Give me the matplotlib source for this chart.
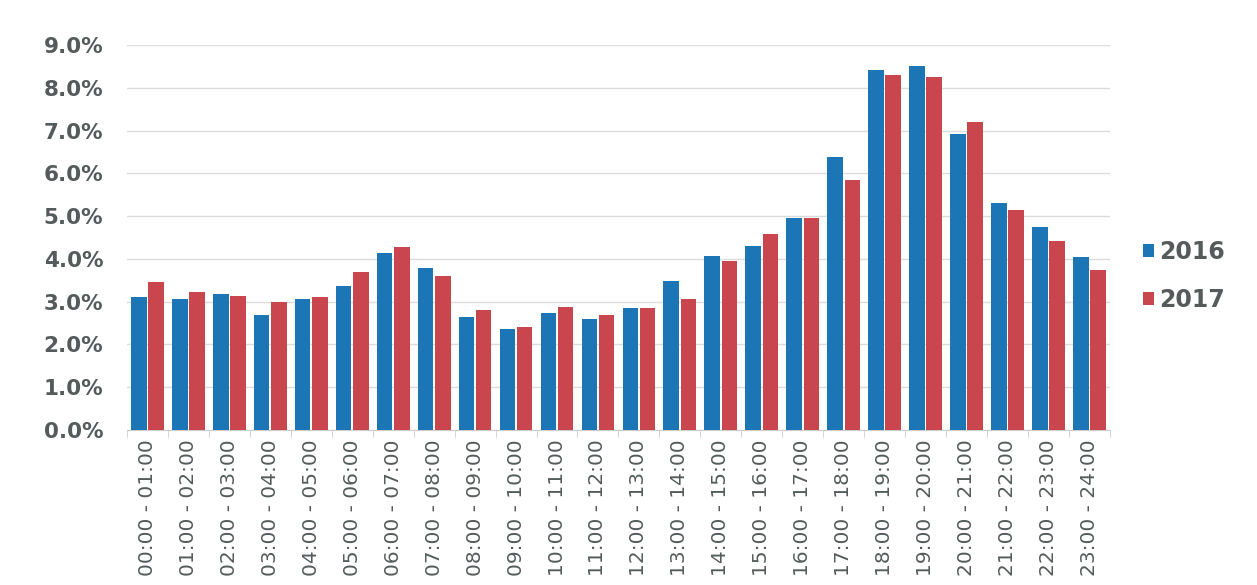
import numpy as np
import matplotlib.pyplot as plt
from matplotlib.ticker import PercentFormatter

# Share of the day's total per hourly slot
slots = [f"{h:02d}:00 - {h + 1:02d}:00" for h in range(24)]
share_2016 = [3.10, 3.06, 3.18, 2.69, 3.06, 3.36, 4.14, 3.79, 2.64, 2.36, 2.73, 2.59,
              2.85, 3.48, 4.07, 4.30, 4.95, 6.38, 8.41, 8.50, 6.92, 5.30, 4.74, 4.04]
share_2017 = [3.45, 3.22, 3.13, 2.99, 3.10, 3.69, 4.28, 3.60, 2.80, 2.41, 2.87, 2.69,
              2.85, 3.06, 3.95, 4.58, 4.95, 5.84, 8.29, 8.25, 7.20, 5.14, 4.42, 3.74]
years = ["2016", "2017"]
colors = ["#1c75b5", "#c9464f"]
text_grey = "#555b5b"

fig = plt.figure(figsize=(12.57, 5.85), dpi=100)
ax = fig.add_axes([0.101, 0.265, 0.782, 0.658])

x = np.arange(len(slots))
w = 0.38
ax.bar(x - 0.21, share_2016, width=w, color=colors[0], label=years[0], zorder=3)
ax.bar(x + 0.21, share_2017, width=w, color=colors[1], label=years[1], zorder=3)

ax.set_xlim(-0.5, len(slots) - 0.5)
ax.set_ylim(0, 9)
ax.set_yticks(np.arange(0, 10, 1))
ax.yaxis.set_major_formatter(PercentFormatter(decimals=1))
ax.grid(axis="y", color="#dcdcdc", linewidth=1, zorder=0)

ax.set_xticks(x)
ax.set_xticklabels(slots, rotation=90, fontsize=14.5, color=text_grey)
ax.set_xticks(np.arange(-0.5, len(slots), 1), minor=True)
ax.tick_params(axis="x", which="major", length=0, pad=7)
ax.tick_params(axis="x", which="minor", length=5, color="#cccccc")
ax.tick_params(axis="y", length=0, pad=17)
for lab in ax.get_yticklabels():
    lab.set_fontsize(15.5)
    lab.set_fontweight("bold")
    lab.set_color(text_grey)

for side in ["top", "right", "left"]:
    ax.spines[side].set_visible(False)
ax.spines["bottom"].set_color("#cccccc")

leg = ax.legend(loc="center left", bbox_to_anchor=(1.012, 0.40), frameon=False,
                handlelength=0.45, handleheight=0.45, handletextpad=0.25,
                labelspacing=1.0, fontsize=17, labelcolor=text_grey)
for t in leg.get_texts():
    t.set_fontweight("bold")

fig.savefig("out.png", dpi=100, facecolor="white")
